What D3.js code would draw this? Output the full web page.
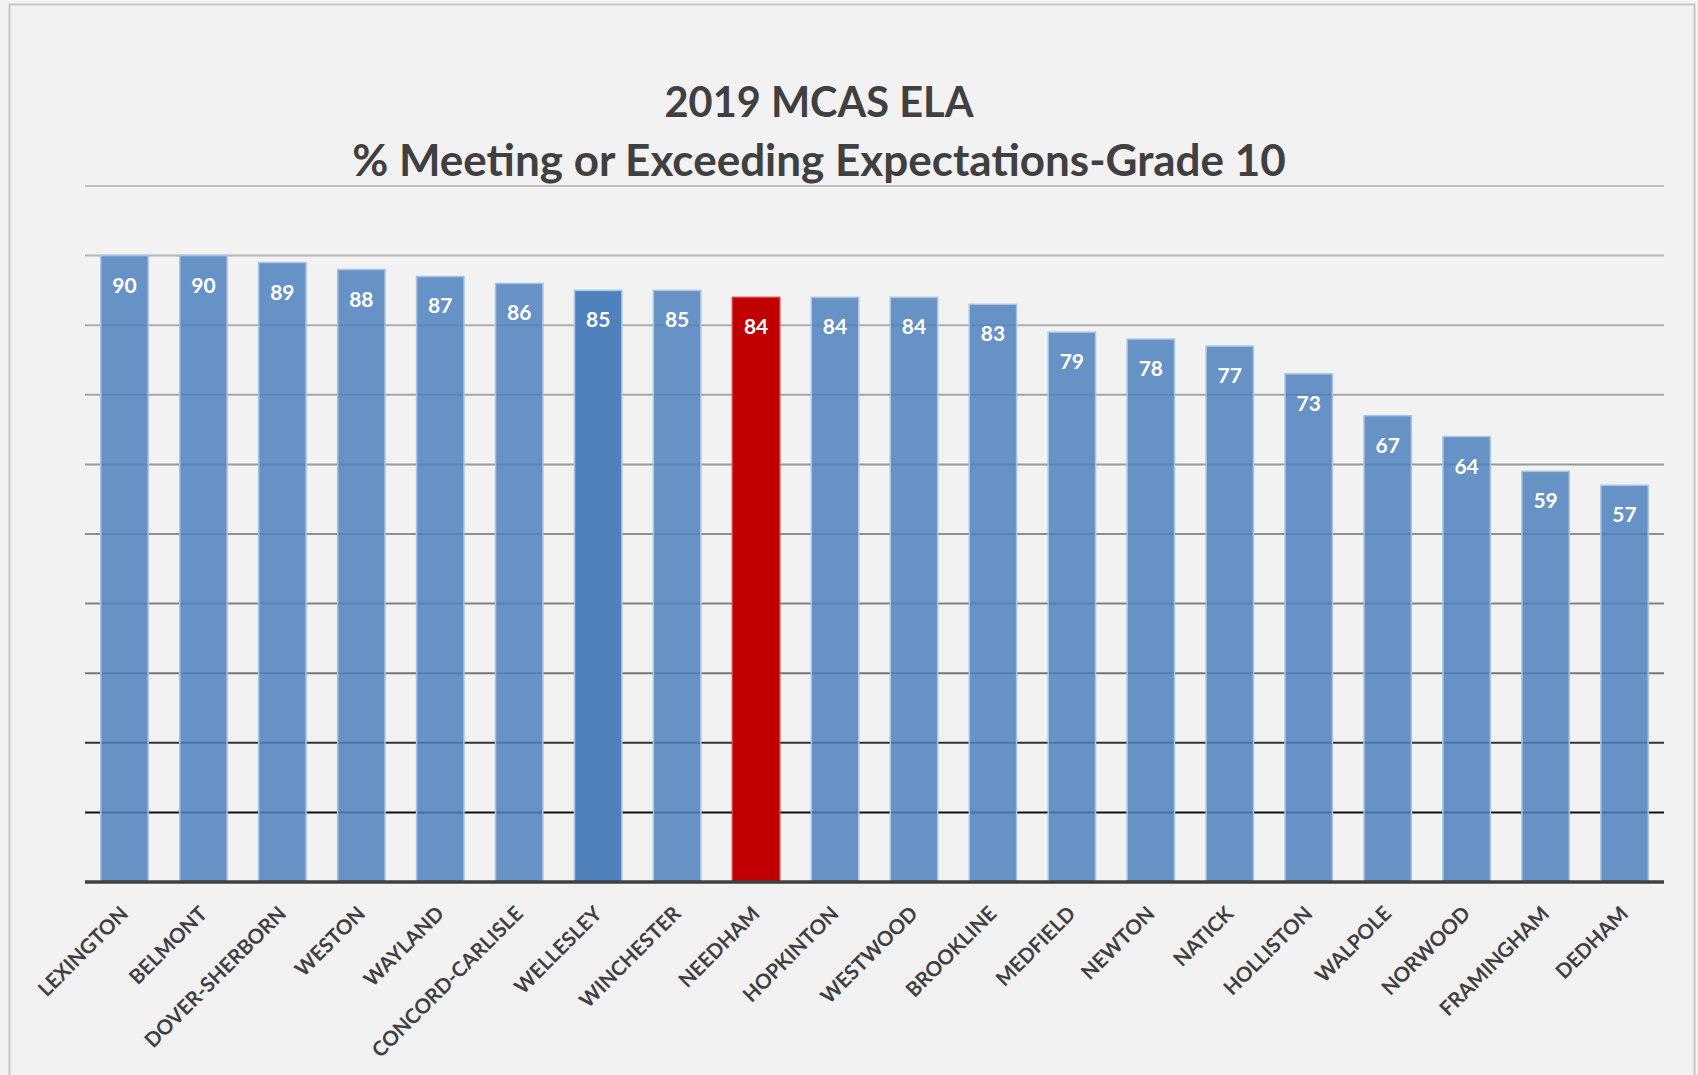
<!DOCTYPE html>
<html>
<head>
<meta charset="utf-8">
<script src="https://cdn.jsdelivr.net/npm/d3@7"></script>
<style>
  body { margin: 0; background: #f2f2f2; }
  svg { display: block; font-family: Lato, "Open Sans", sans-serif; }
</style>
</head>
<body>
<svg width="1698" height="1075"></svg>
<script>
var districts = ["LEXINGTON", "BELMONT", "DOVER-SHERBORN", "WESTON", "WAYLAND", "CONCORD-CARLISLE",
  "WELLESLEY", "WINCHESTER", "NEEDHAM", "HOPKINTON", "WESTWOOD", "BROOKLINE", "MEDFIELD", "NEWTON",
  "NATICK", "HOLLISTON", "WALPOLE", "NORWOOD", "FRAMINGHAM", "DEDHAM"];
var scores = [90, 90, 89, 88, 87, 86, 85, 85, 84, 84, 84, 83, 79, 78, 77, 73, 67, 64, 59, 57];
var gridValues = [10, 20, 30, 40, 50, 60, 70, 80, 90, 100];
var titleLines = ["2019 MCAS ELA", "% Meeting or Exceeding Expectations-Grade 10"];

var svg = d3.select("svg"),
    margin = {top: 186, right: 34, bottom: 193, left: 85},
    width = +svg.attr("width") - margin.left - margin.right,
    height = +svg.attr("height") - margin.top - margin.bottom;

// chart frame
svg.append("rect")
    .attr("x", 9.5).attr("y", 4.5)
    .attr("width", 1685).attr("height", 1080)
    .attr("fill", "#f2f2f2")
    .attr("stroke", "#c6c6c6")
    .attr("stroke-width", 2);

var g = svg.append("g").attr("transform", "translate(" + margin.left + "," + margin.top + ")");

var x = d3.scaleBand()
    .domain(districts)
    .range([0, width])
    .paddingInner(0.4)
    .paddingOuter(0.2);

var y = d3.scaleLinear()
    .domain([0, 100])
    .range([height, 0]);

// gridlines get darker toward the bottom
var gridColor = d3.scaleLinear()
    .domain([10, 20, 30, 60, 100])
    .range(["#111111", "#333333", "#777777", "#9a9a9a", "#bfbfbf"]);

g.selectAll(".grid")
  .data(gridValues)
  .enter().append("line")
    .attr("class", "grid")
    .attr("x1", 0).attr("x2", width)
    .attr("y1", function(d) { return y(d); })
    .attr("y2", function(d) { return y(d); })
    .attr("stroke", function(d) { return gridColor(d); })
    .attr("stroke-width", 2);

function barFill(d) {
  if (d == "NEEDHAM") return "#c00000";
  return "#4f81bd";
}
function barOpacity(d) {
  if (d == "NEEDHAM" || d == "WELLESLEY") return 1;
  return 0.85;
}

var bars = g.selectAll(".bar")
  .data(districts)
  .enter().append("g")
    .attr("class", "bar");

bars.append("rect")
    .attr("x", function(d) { return x(d); })
    .attr("y", function(d, i) { return y(scores[i]); })
    .attr("width", x.bandwidth())
    .attr("height", function(d, i) { return height - y(scores[i]); })
    .attr("fill", barFill)
    .attr("fill-opacity", barOpacity)
    .attr("stroke", function(d) { return d == "NEEDHAM" ? "#d04040" : "#a9c3e4"; })
    .attr("stroke-width", 1.5);

bars.append("text")
    .attr("x", function(d) { return x(d) + x.bandwidth() / 2; })
    .attr("y", function(d, i) { return y(scores[i]) + 37; })
    .attr("text-anchor", "middle")
    .attr("fill", "#ffffff")
    .style("font-size", "21px")
    .style("font-weight", "bold")
    .text(function(d, i) { return scores[i]; });

// baseline
g.append("line")
    .attr("x1", 0).attr("x2", width)
    .attr("y1", height).attr("y2", height)
    .attr("stroke", "#404040")
    .attr("stroke-width", 3.5);

var xAxis = d3.axisBottom(x).tickSize(0).tickPadding(0);

g.append("g")
    .attr("class", "xaxis")
    .attr("transform", "translate(0," + height + ")")
    .call(xAxis)
    .call(function(a) { a.select(".domain").remove(); })
    .selectAll("text")
    .attr("fill", "#404040")
    .attr("y", 0).attr("dy", 0)
    .attr("text-anchor", "end")
    .attr("transform", "translate(5,33) rotate(-45)")
    .style("font-size", "20.5px")
    .style("font-weight", "bold")
    .style("font-family", "Lato, 'Open Sans', sans-serif");

svg.selectAll(".title")
  .data(titleLines)
  .enter().append("text")
    .attr("class", "title")
    .attr("x", 819)
    .attr("y", function(d, i) { return 117 + i * 58.5; })
    .attr("text-anchor", "middle")
    .attr("fill", "#404040")
    .style("font-size", function(d, i) { return i == 0 ? "41.5px" : "44px"; })
    .style("font-weight", "bold")
    .text(function(d) { return d; });
</script>
</body>
</html>
